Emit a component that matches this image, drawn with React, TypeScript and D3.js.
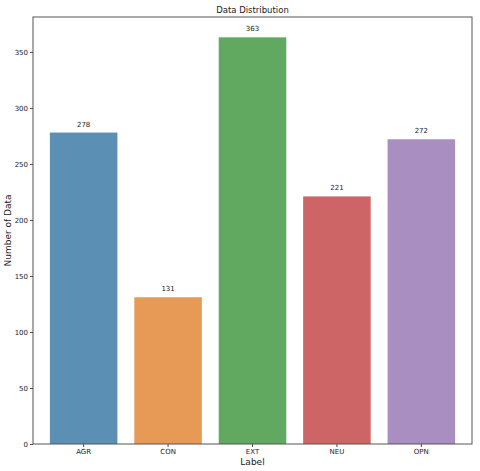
import React, { useEffect, useRef } from "react";
import * as d3 from "d3";

const categories = ["AGR", "CON", "EXT", "NEU", "OPN"];
const counts = [278, 131, 363, 221, 272];
const colors = ["#5b90b4", "#e79a56", "#61a861", "#cd6465", "#a98ec1"];
const yTicks = [0, 50, 100, 150, 200, 250, 300, 350];

function App() {
  const ref = useRef<SVGSVGElement>(null);

  useEffect(() => {
    const svg = d3.select(ref.current);
    svg.selectAll("*").remove();

    const margin = { top: 17, right: 8, bottom: 27, left: 33 };
    const width = 480;
    const height = 471;

    const data = categories.map((c, i) => ({ x: c, y: counts[i], color: colors[i] }));

    const x = d3.scaleBand()
      .domain(categories)
      .range([margin.left, width - margin.right])
      .padding(0.2);

    const y = d3.scaleLinear()
      .domain([0, d3.max(counts)! * 1.05])
      .range([height - margin.bottom, margin.top]);

    svg.append("rect")
      .attr("width", width)
      .attr("height", height)
      .attr("fill", "white");

    svg.selectAll(".bar")
      .data(data)
      .enter()
      .append("rect")
      .attr("class", "bar")
      .attr("x", d => x(d.x)!)
      .attr("y", d => y(d.y))
      .attr("width", x.bandwidth())
      .attr("height", d => y(0) - y(d.y))
      .attr("fill", d => d.color);

    svg.selectAll(".bar-label")
      .data(data)
      .enter()
      .append("text")
      .attr("class", "bar-label")
      .attr("x", d => x(d.x)! + x.bandwidth() / 2)
      .attr("y", d => y(d.y) - 6)
      .attr("text-anchor", "middle")
      .style("font-family", "DejaVu Sans")
      .style("font-size", "7px")
      .style("fill", "#222")
      .text(d => d.y);

    const xAxis = svg.append("g")
      .attr("transform", `translate(0, ${height - margin.bottom})`)
      .call(d3.axisBottom(x).tickSize(3).tickPadding(2));

    const yAxis = svg.append("g")
      .attr("transform", `translate(${margin.left}, 0)`)
      .call(d3.axisLeft(y).tickValues(yTicks).tickSize(3).tickPadding(2));

    [xAxis, yAxis].forEach(g => {
      g.select(".domain").remove();
      g.selectAll("line").attr("stroke", "#444");
      g.selectAll("text")
        .style("font-family", "DejaVu Sans")
        .style("font-size", "7px")
        .attr("fill", "#222");
    });

    // frame
    svg.append("rect")
      .attr("x", margin.left)
      .attr("y", margin.top)
      .attr("width", width - margin.left - margin.right)
      .attr("height", height - margin.top - margin.bottom)
      .attr("fill", "none")
      .attr("stroke", "#555")
      .attr("stroke-width", 1);

    const cx = (margin.left + width - margin.right) / 2;

    svg.append("text")
      .attr("x", cx)
      .attr("y", 13)
      .attr("text-anchor", "middle")
      .style("font-family", "DejaVu Sans")
      .style("font-size", "8.5px")
      .style("fill", "#222")
      .text("Data Distribution");

    svg.append("text")
      .attr("x", cx)
      .attr("y", 465)
      .attr("text-anchor", "middle")
      .style("font-family", "DejaVu Sans")
      .style("font-size", "9px")
      .style("fill", "#222")
      .text("Label");

    svg.append("text")
      .attr("transform", `translate(11, ${(margin.top + height - margin.bottom) / 2}) rotate(-90)`)
      .attr("text-anchor", "middle")
      .style("font-family", "DejaVu Sans")
      .style("font-size", "9px")
      .style("fill", "#222")
      .text("Number of Data");
  }, []);

  return (
    <svg ref={ref} width={480} height={471} style={{ position: "absolute", left: 0, top: 0 }} />
  );
}

export default App;
